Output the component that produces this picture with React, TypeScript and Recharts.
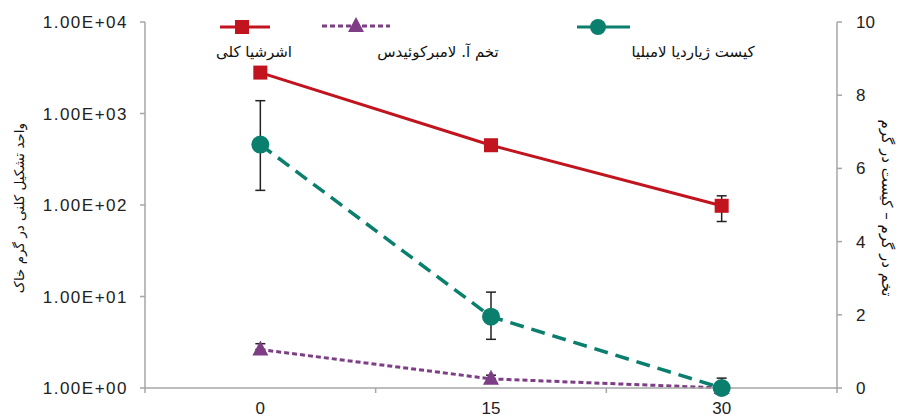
import { LineChart, Line, XAxis, YAxis, ErrorBar } from "recharts";

// روز نمونه‌برداری
const days = [0, 15, 30];
const ecoli = [2800, 450, 98];
const ecoliErr = [[0, 0], [0, 0], [32, 28]];
const giardia = [6.65, 1.95, 0];
const giardiaErr = [[1.25, 1.2], [0.62, 0.67], [0, 0.27]];
const ascaris = [1.05, 0.25, 0];
const ascarisErr = [[0, 0.16], [0, 0.1], [0, 0]];

const xTicks = [-7.5, 0, 7.5, 15, 22.5, 30, 37.5];
const leftTicks = [1, 10, 100, 1000, 10000];
const rightTicks = [0, 2, 4, 6, 8, 10];

const names = ["اشرشیا کلی", "تخم آ. لامبرکوئیدس", "کیست ژیاردیا لامبلیا"];
const leftTitle = "واحد تشکیل کلنی در گرم خاک";
const rightTitle = "تخم در گرم – کیست در گرم";

const RED = "#c1141f";
const PURPLE = "#7d3e85";
const TEAL = "#0b7f6e";
const AXIS = "#a6a6a6";
const PERSIAN = "'DejaVu Sans', sans-serif";
const LATIN = "'Liberation Sans', Arial, sans-serif";

const data = days.map((d, i) => ({
  day: d,
  ecoli: ecoli[i],
  ecoliErr: ecoliErr[i],
  giardia: giardia[i],
  giardiaErr: giardiaErr[i],
  ascaris: ascaris[i],
  ascarisErr: ascarisErr[i],
}));

const sci = (v: number) => {
  const e = Math.round(Math.log10(v));
  const m = v / Math.pow(10, e);
  const sign = e < 0 ? "-" : "+";
  return `${m.toFixed(2)}E${sign}${String(Math.abs(e)).padStart(2, "0")}`;
};

const XTick = (props: any) => {
  const { x, y, payload } = props;
  if (days.includes(payload.value)) {
    return (
      <text x={x} y={y} dy={26} textAnchor="middle" fontSize={17} fontFamily={LATIN} fill="#222">
        {payload.value}
      </text>
    );
  }
  return <line x1={x} x2={x} y1={y} y2={y + 5} stroke={AXIS} strokeWidth={1.5} />;
};

const SquareDot = (props: any) => {
  const { cx, cy, index } = props;
  return <rect key={`s${index}`} x={cx - 7} y={cy - 7} width={14} height={14} fill={RED} />;
};

const TriDot = (props: any) => {
  const { cx, cy, index } = props;
  return (
    <path key={`t${index}`} d={`M${cx},${cy - 9} L${cx + 8},${cy + 6} L${cx - 8},${cy + 6} Z`} fill={PURPLE} />
  );
};

const CircleDot = (props: any) => {
  const { cx, cy, index } = props;
  return <circle key={`c${index}`} cx={cx} cy={cy} r={9} fill={TEAL} />;
};

function Overlay() {
  const label = { fontSize: 15, fontFamily: PERSIAN, fill: "#111", textAnchor: "middle" as const };
  return (
    <svg width={909} height={418} style={{ position: "absolute", left: 0, top: 0, pointerEvents: "none" }}>
      {/* legend */}
      <line x1={220} x2={270} y1={27} y2={27} stroke={RED} strokeWidth={3} />
      <rect x={235} y={20} width={14} height={14} fill={RED} />
      <line x1={322} x2={390} y1={26} y2={26} stroke={PURPLE} strokeWidth={3} strokeDasharray="5 3" />
      <path d="M356,17 L364,32 L348,32 Z" fill={PURPLE} />
      <line x1={577} x2={630} y1={27} y2={27} stroke={TEAL} strokeWidth={3} />
      <circle cx={598} cy={27} r={8} fill={TEAL} />
      <text x={254} y={57} {...label}>{names[0]}</text>
      <text x={438} y={57} {...label}>{names[1]}</text>
      <text x={693} y={57} {...label}>{names[2]}</text>
      {/* axis titles */}
      <text transform="translate(24,208) rotate(-90)" {...label} fontSize={13.5}>
        {leftTitle}
      </text>
      <text transform="translate(882,208) rotate(90)" {...label}>
        {rightTitle}
      </text>
    </svg>
  );
}

export default function App() {
  return (
    <div style={{ position: "absolute", left: 0, top: 0, width: 909, height: 418, background: "#fff" }}>
      <LineChart width={909} height={418} data={data} margin={{ top: 22, right: 0, bottom: 0, left: 0 }}>
        <XAxis
          dataKey="day"
          type="number"
          domain={[-7.5, 37.5]}
          ticks={xTicks}
          interval={0}
          height={30}
          tickSize={0}
          tickMargin={0}
          tickLine={false}
          axisLine={{ stroke: AXIS, strokeWidth: 1.5 }}
          tick={<XTick />}
        />
        <YAxis
          yAxisId="left"
          scale="log"
          domain={[1, 10000]}
          ticks={leftTicks}
          interval={0}
          allowDataOverflow
          width={145}
          tickSize={5}
          tickMargin={12}
          tickFormatter={sci}
          axisLine={{ stroke: AXIS, strokeWidth: 1.5 }}
          tickLine={{ stroke: AXIS, strokeWidth: 1.5 }}
          tick={{ fontSize: 17, fontFamily: LATIN, fill: "#222", letterSpacing: 1.5 }}
        />
        <YAxis
          yAxisId="right"
          orientation="right"
          domain={[0, 10]}
          ticks={rightTicks}
          interval={0}
          width={72}
          tickSize={5}
          tickMargin={14}
          axisLine={{ stroke: AXIS, strokeWidth: 1.5 }}
          tickLine={{ stroke: AXIS, strokeWidth: 1.5 }}
          tick={{ fontSize: 17, fontFamily: LATIN, fill: "#222", textAnchor: "start" }}
        />
        <Line
          yAxisId="right"
          dataKey="ascaris"
          stroke={PURPLE}
          strokeWidth={3}
          strokeDasharray="5 3"
          dot={<TriDot />}
          isAnimationActive={false}
        >
          <ErrorBar dataKey="ascarisErr" direction="y" width={5} stroke="#222" strokeWidth={1.5} />
        </Line>
        <Line
          yAxisId="right"
          dataKey="giardia"
          stroke={TEAL}
          strokeWidth={3.5}
          strokeDasharray="14 8"
          dot={<CircleDot />}
          isAnimationActive={false}
        >
          <ErrorBar dataKey="giardiaErr" direction="y" width={5} stroke="#222" strokeWidth={1.5} />
        </Line>
        <Line
          yAxisId="left"
          dataKey="ecoli"
          stroke={RED}
          strokeWidth={3}
          dot={<SquareDot />}
          isAnimationActive={false}
        >
          <ErrorBar dataKey="ecoliErr" direction="y" width={5} stroke="#222" strokeWidth={1.5} />
        </Line>
      </LineChart>
      <Overlay />
    </div>
  );
}
